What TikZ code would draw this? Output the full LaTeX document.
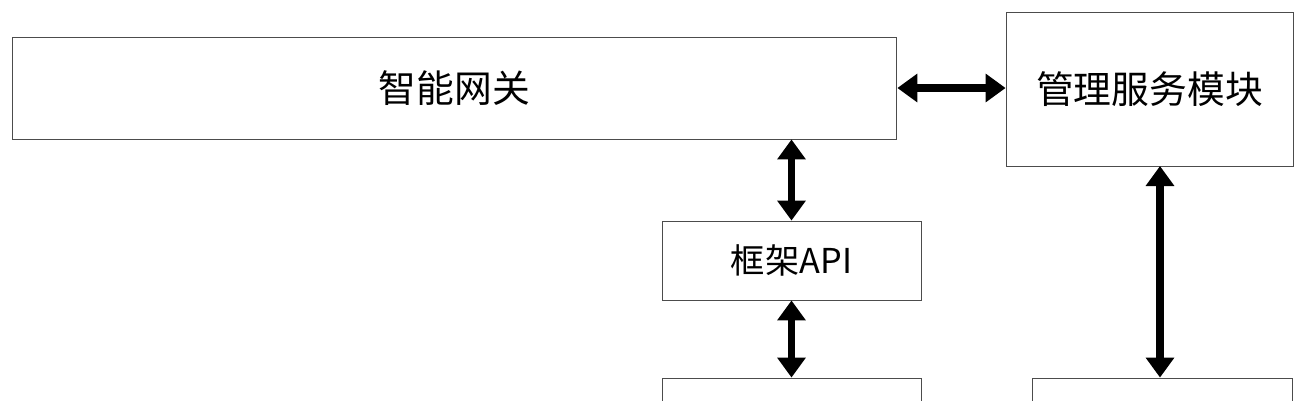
\documentclass[tikz,border=0pt]{standalone}
\usepackage{fontspec}
\setmainfont{Noto Sans CJK SC}
\usetikzlibrary{arrows.meta}
\tikzset{
	blok/.style={draw=black!70, line width=0.5pt, inner sep=0, font=\fontsize{21.5}{24}\selectfont},
	pijl/.style={line width=4pt, {Triangle[width=0.55cm,length=0.4cm]}-{Triangle[width=0.55cm,length=0.4cm]}}
}
\begin{document}
\begin{tikzpicture}[x=0.02cm, y=-0.02cm]
		\useasboundingbox (0,0) rectangle (1309,400);
		\clip (0,0) rectangle (1309,400);
		\node[blok, minimum width=17.7cm, minimum height=2.04cm] (gw) at (454.5,88) {智能网关};
		\node[blok, minimum width=5.74cm, minimum height=3.08cm] (ms) at (1149.5,89) {管理服务模块};
		\node[blok, minimum width=5.18cm, minimum height=1.58cm, font=\fontsize{19.5}{22}\selectfont] (api) at (791.5,260.5) {框架API};
		\node[blok, minimum width=5.18cm, minimum height=1.6cm] (lo) at (791.5,418) {};
		\node[blok, minimum width=5.2cm, minimum height=1.6cm] (lr) at (1162,418) {};
		\draw[pijl] (gw.east) -- (ms.west |- gw.east);
		\draw[pijl] (gw.south -| api.north) -- (api.north);
		\draw[pijl] (api.south) -- (lo.north);
		\coordinate (top) at (1160,166);
		\draw[pijl] (top) -- (top |- lr.north);
	\end{tikzpicture}
\end{document}
